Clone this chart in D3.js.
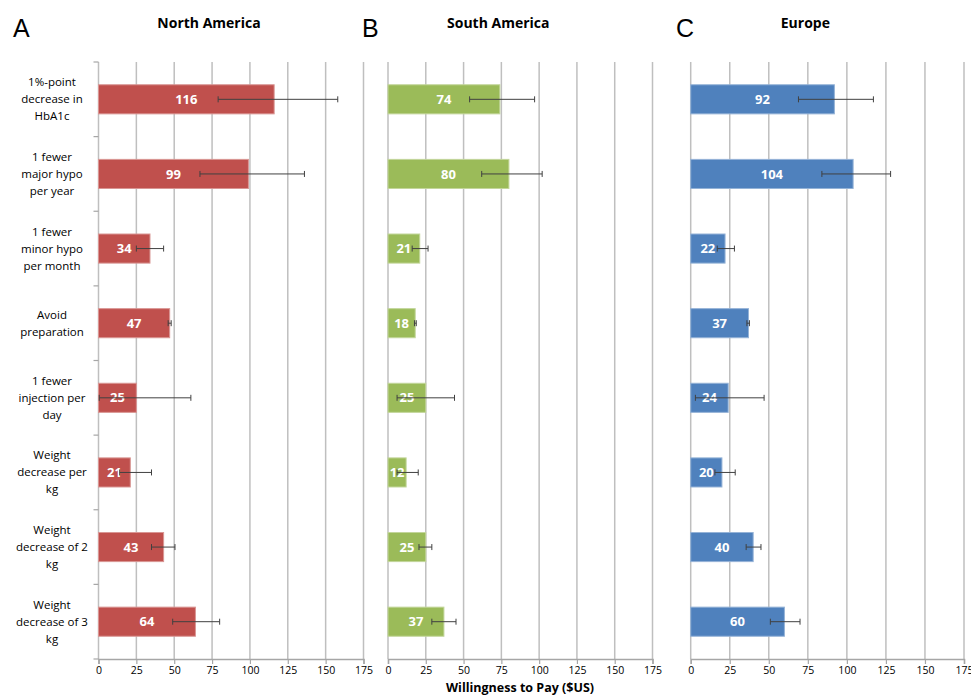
<!DOCTYPE html>
<html>
<head>
<meta charset="utf-8">
<script src="https://cdn.jsdelivr.net/npm/d3@7"></script>
<style>
  body { margin: 0; background: #fff; }
  text { font-family: "Open Sans", "Liberation Sans", sans-serif; }
</style>
</head>
<body>
<svg id="chart" width="971" height="696"></svg>
<script>
// attributes, top to bottom
const categories = [
    "1%-point\ndecrease in\nHbA1c",
    "1 fewer\nmajor hypo\nper year",
    "1 fewer\nminor hypo\nper month",
    "Avoid\npreparation",
    "1 fewer\ninjection per\nday",
    "Weight\ndecrease per\nkg",
    "Weight\ndecrease of 2\nkg",
    "Weight\ndecrease of 3\nkg"
];

const xTicks = [0, 25, 50, 75, 100, 125, 150, 175];

const naValues = [116, 99, 34, 47, 25, 21, 43, 64];
const naLow = [79, 67, 25, 46, 0.5, 14, 35, 49];
const naHigh = [158, 136, 43, 48, 61, 35, 50.5, 80];

const saValues = [74, 80, 21, 18, 25, 12, 25, 37];
const saLow = [54, 62, 16, 17.5, 6, 6, 20.5, 29];
const saHigh = [97, 102, 26.5, 18.7, 44, 20, 29, 45];

const euValues = [92, 104, 22, 37, 24, 20, 40, 60];
const euLow = [69, 84, 17, 36, 3, 15.5, 35.5, 51];
const euHigh = [117, 128, 28, 37.6, 47, 28.5, 45, 70];

const svg = d3.select('#chart');

const plotTop = 62, plotBottom = 659;

const panels = [
    { letter: 'A', title: 'North America', color: '#c0504d', edge: '#d99694', x0: 98.5, x1: 363.5, letterX: 13,
      values: naValues, low: naLow, high: naHigh, yAxis: true },
    { letter: 'B', title: 'South America', color: '#9bbb59', edge: '#c3d69b', x0: 388, x1: 652.5, letterX: 362,
      values: saValues, low: saLow, high: saHigh, yAxis: false },
    { letter: 'C', title: 'Europe', color: '#4f81bd', edge: '#95b3d7', x0: 690.7, x1: 964, letterX: 676,
      values: euValues, low: euLow, high: euHigh, yAxis: false }
];

const y = d3.scaleBand()
    .domain(categories)
    .range([plotTop, plotBottom])
    .paddingInner(0.61)
    .paddingOuter(0.305);

panels.forEach(p => {
    let x = d3.scaleLinear().domain([0, 175]).range([p.x0, p.x1]);
    let g = svg.append('g');

    // panel letter and title
    g.append('text')
        .attr('x', p.letterX)
        .attr('y', 37)
        .style('font-family', '"Liberation Sans", Arial, sans-serif')
        .style('font-size', '25px')
        .attr('fill', '#000')
        .text(p.letter);

    g.append('text')
        .attr('x', (p.x0 + p.x1) / 2 - 22)
        .attr('y', 28)
        .attr('text-anchor', 'middle')
        .style('font-size', '14px')
        .style('font-weight', 'bold')
        .text(p.title);

    // vertical gridlines
    g.selectAll('.grid')
        .data(xTicks)
        .join('line')
        .attr('x1', d => x(d))
        .attr('x2', d => x(d))
        .attr('y1', plotTop)
        .attr('y2', plotBottom)
        .attr('stroke', '#bfbfbf')
        .attr('stroke-width', 1.5);

    // bottom axis
    let xAxis = g.append('g')
        .attr('transform', `translate(0,${plotBottom})`)
        .call(d3.axisBottom(x).tickValues(xTicks).tickSize(5).tickPadding(3));
    xAxis.select('.domain').attr('stroke', '#a6a6a6').attr('stroke-width', 1.5);
    xAxis.selectAll('.tick line').attr('stroke', '#a6a6a6').attr('stroke-width', 1.2);
    xAxis.selectAll('.tick text')
        .style('font-family', '"Open Sans", sans-serif')
        .style('font-size', '10.5px')
        .attr('fill', '#000');

    if (p.yAxis) {
        // category axis with ticks at band boundaries
        let bounds = categories.map(c => y(c) - y.step() * y.paddingInner() / 2);
        bounds.push(plotBottom);
        g.selectAll('.ytick')
            .data(bounds)
            .join('line')
            .attr('x1', x(0) - 5)
            .attr('x2', x(0))
            .attr('y1', d => d)
            .attr('y2', d => d)
            .attr('stroke', '#a6a6a6')
            .attr('stroke-width', 1.2);

        let labels = g.selectAll('.cat')
            .data(categories)
            .join('text')
            .attr('text-anchor', 'middle')
            .style('font-size', '11.5px')
            .attr('fill', '#000');
        labels.each(function (c) {
            let lines = c.split('\n');
            let cy = y(c) + y.bandwidth() / 2;
            let lh = 17;
            let start = cy - (lines.length - 1) * lh / 2;
            d3.select(this).selectAll('tspan')
                .data(lines)
                .join('tspan')
                .attr('x', 52)
                .attr('y', (d, i) => start + i * lh)
                .attr('dy', '0.35em')
                .text(d => d);
        });
    }

    // bars
    g.selectAll('.bar')
        .data(p.values)
        .join('rect')
        .attr('x', x(0))
        .attr('y', (d, i) => y(categories[i]))
        .attr('width', d => x(d) - x(0))
        .attr('height', y.bandwidth())
        .attr('fill', p.color)
        .attr('stroke', p.edge)
        .attr('stroke-width', 1);

    // value labels
    g.selectAll('.val')
        .data(p.values)
        .join('text')
        .attr('x', d => (x(0) + x(d)) / 2)
        .attr('y', (d, i) => y(categories[i]) + y.bandwidth() / 2)
        .attr('dy', '0.36em')
        .attr('text-anchor', 'middle')
        .style('font-size', '13px')
        .style('font-weight', 'bold')
        .attr('fill', '#fff')
        .text(d => d);

    // error bars
    let err = g.selectAll('.err')
        .data(p.values.map((v, i) => ({ lo: p.low[i], hi: p.high[i], cy: y(categories[i]) + y.bandwidth() / 2 })))
        .join('g')
        .attr('stroke', '#404040')
        .attr('stroke-width', 1);
    err.append('line')
        .attr('x1', d => x(d.lo)).attr('x2', d => x(d.hi))
        .attr('y1', d => d.cy).attr('y2', d => d.cy);
    err.append('line')
        .attr('x1', d => x(d.lo)).attr('x2', d => x(d.lo))
        .attr('y1', d => d.cy - 3).attr('y2', d => d.cy + 3);
    err.append('line')
        .attr('x1', d => x(d.hi)).attr('x2', d => x(d.hi))
        .attr('y1', d => d.cy - 3).attr('y2', d => d.cy + 3);
});

svg.append('text')
    .attr('x', 520)
    .attr('y', 692)
    .attr('text-anchor', 'middle')
    .style('font-size', '12.5px')
    .style('font-weight', 'bold')
    .text('Willingness to Pay ($US)');
</script>
</body>
</html>
